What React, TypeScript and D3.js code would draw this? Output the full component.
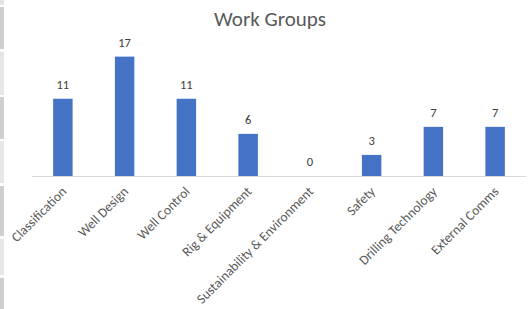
import React from "react";
import * as d3 from "d3";

const categories = [
  "Classification",
  "Well Design",
  "Well Control",
  "Rig & Equipment",
  "Sustainability & Environment",
  "Safety",
  "Drilling Technology",
  "External Comms",
];
const values = [11, 17, 11, 6, 0, 3, 7, 7];
const title = "Work Groups";

const W = 530;
const H = 309;
const FONT = "Carlito, Calibri, Lato, 'Open Sans', sans-serif";

export default function App() {
  const x = d3.scaleBand<string>().domain(categories).range([32, 526]).paddingInner(0.685).paddingOuter(0.3425);
  const y = d3.scaleLinear().domain([0, 18]).range([176, 49.6]);
  const baseY = y(0);

  const strip = [
    { y0: 0, y1: 5, c: "#e4e4e4" },
    { y0: 7, y1: 49, c: "#cfcfcf" },
    { y0: 52, y1: 95, c: "#e6e6e6" },
    { y0: 97, y1: 139, c: "#cfcfcf" },
    { y0: 141, y1: 183, c: "#e6e6e6" },
    { y0: 186, y1: 236, c: "#cfcfcf" },
    { y0: 239, y1: 275, c: "#e6e6e6" },
    { y0: 278, y1: 309, c: "#cfcfcf" },
  ];

  return (
    <svg
      width={W}
      height={H}
      style={{ position: "absolute", left: 0, top: 0, background: "#fff" }}
      fontFamily={FONT}
    >
      <rect x={0} y={0} width={W} height={H} fill="#fff" />
      {strip.map((s, i) => (
        <rect key={i} x={0} y={s.y0} width={4} height={s.y1 - s.y0} fill={s.c} />
      ))}
      <text x={270} y={26} textAnchor="middle" fontSize={21} fill="#595959">
        {title}
      </text>
      {categories.map((c, i) => {
        const bx = x(c)!;
        const top = y(values[i]);
        return (
          <g key={c}>
            {values[i] > 0 && (
              <rect x={bx} y={top} width={x.bandwidth()} height={baseY - top} fill="#4472c4" />
            )}
            <text
              x={bx + x.bandwidth() / 2}
              y={top - 10}
              textAnchor="middle"
              fontSize={12.5}
              fill="#404040"
            >
              {values[i]}
            </text>
          </g>
        );
      })}
      <line x1={32} x2={526} y1={baseY + 0.5} y2={baseY + 0.5} stroke="#d9d9d9" strokeWidth={1} />
      {categories.map((c) => {
        const cx = x(c)! + x.bandwidth() / 2;
        return (
          <text
            key={c + "l"}
            transform={`translate(${cx + 1},${baseY + 13}) rotate(-45)`}
            textAnchor="end"
            dy="0.35em"
            fontSize={13.5}
            fill="#595959"
          >
            {c}
          </text>
        );
      })}
    </svg>
  );
}
